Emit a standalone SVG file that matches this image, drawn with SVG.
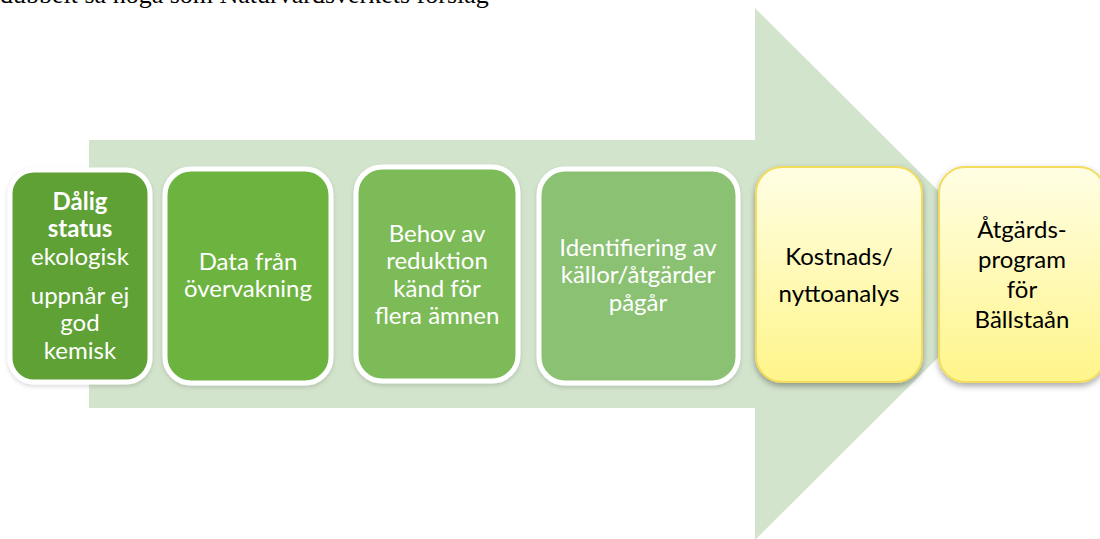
<svg xmlns="http://www.w3.org/2000/svg" width="1100" height="539" viewBox="0 0 1100 539">
<defs>
<linearGradient id="yel" x1="0" y1="0" x2="0" y2="1">
<stop offset="0" stop-color="#fffee4"/>
<stop offset="1" stop-color="#fff58a"/>
</linearGradient>
<filter id="sh" x="-20%" y="-20%" width="140%" height="150%">
<feDropShadow dx="0" dy="3" stdDeviation="3" flood-color="#000" flood-opacity="0.35"/>
</filter>
<filter id="sh2" x="-20%" y="-20%" width="140%" height="150%">
<feDropShadow dx="0" dy="2" stdDeviation="2" flood-color="#000" flood-opacity="0.15"/>
</filter>
</defs>
<style>
.g{stroke:#ffffff;stroke-width:5}
.y{fill:url(#yel);stroke:#f3dc5c;stroke-width:2;filter:url(#sh)}
.t{font-family:Lato,"Open Sans","Liberation Sans",sans-serif;font-size:24px;fill:#ffffff;text-anchor:middle}
.tb{font-family:Lato,"Open Sans","Liberation Sans",sans-serif;font-size:24px;fill:#000000;text-anchor:middle}
.top{font-family:"Liberation Serif",serif;font-size:26px;fill:#000000}
</style>
<rect width="1100" height="539" fill="#ffffff"/>
<text class="top" x="0" y="3">dubbelt så höga som Naturvårdsverkets förslag</text>
<g id="arrow">
<polygon points="89,140 755,140 755,8 1022,274 755,540 755,408 89,408" fill="#d3e4cd"/>
</g>
<g id="connectors"></g>
<g id="n1">
<rect x="10" y="170" width="140" height="212" rx="24" fill="#5fa136" class="g" filter="url(#sh2)"/>
<text class="t" x="80" y="210" font-weight="bold" font-size="25">Dålig</text>
<text class="t" x="80" y="237" font-weight="bold" font-size="25">status</text>
<text class="t" x="80" y="265">ekologisk</text>
<text class="t" x="80" y="304">uppnår ej</text>
<text class="t" x="80" y="331">god</text>
<text class="t" x="80" y="359">kemisk</text>
</g>
<g id="n2">
<rect x="165" y="169" width="166" height="214" rx="26" fill="#6db33f" class="g" filter="url(#sh2)"/>
<text class="t" x="248" y="270">Data från</text>
<text class="t" x="248" y="297">övervakning</text>
</g>
<g id="n3">
<rect x="356" y="167" width="162" height="214" rx="26" fill="#7dbb58" class="g" filter="url(#sh2)"/>
<text class="t" x="437" y="242">Behov av</text>
<text class="t" x="437" y="269">reduktion</text>
<text class="t" x="437" y="297">känd för</text>
<text class="t" x="437" y="324">flera ämnen</text>
</g>
<g id="n4">
<rect x="539" y="169" width="199" height="214" rx="26" fill="#8bc173" class="g" filter="url(#sh2)"/>
<text class="t" x="638" y="256">Identifiering av</text>
<text class="t" x="638" y="283">källor/åtgärder</text>
<text class="t" x="638" y="311">pågår</text>
</g>
<g id="n5">
<rect x="756" y="167" width="166" height="215" rx="26" class="y"/>
<text class="tb" x="839" y="265">Kostnads/</text>
<text class="tb" x="839" y="302">nyttoanalys</text>
</g>
<g id="n6">
<rect x="939" y="167" width="166" height="215" rx="26" class="y"/>
<text class="tb" x="1022" y="238" font-size="29">Åtgärds-</text>
<text class="tb" x="1022" y="268" font-size="29">program</text>
<text class="tb" x="1022" y="298" font-size="29">för</text>
<text class="tb" x="1022" y="328" font-size="29">Bällstaån</text>
</g>
</svg>
